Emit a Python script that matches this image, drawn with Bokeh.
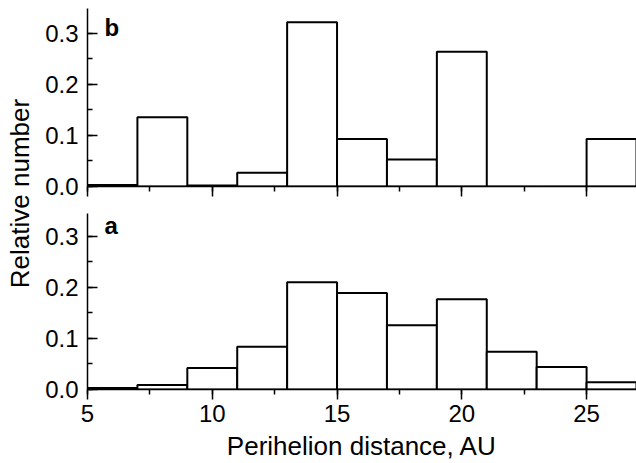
import math
from bokeh.plotting import figure
from bokeh.layouts import row, column
from bokeh.models import SingleIntervalTicker, NumeralTickFormatter, Label, Range1d
from bokeh.core.properties import value
from bokeh.embed import file_html
from bokeh.resources import INLINE

# ---- data ----
bin_edges = [5, 7, 9, 11, 13, 15, 17, 19, 21, 23, 25, 27]
share_a = [0.003, 0.009, 0.042, 0.084, 0.210, 0.189, 0.126, 0.177, 0.074, 0.044, 0.014]
share_b = [0.003, 0.136, 0.002, 0.027, 0.322, 0.093, 0.053, 0.264, 0.0, 0.0, 0.093]
panel_labels = ["b", "a"]
x_title = "Perihelion distance, AU"
y_title = "Relative number"

FONT = "Liberation Sans"
TICK_PX = "24px"
TITLE_PX = "26px"


def style_panel(p, show_x_labels):
    p.outline_line_color = None
    p.grid.grid_line_color = None
    p.background_fill_color = "white"
    p.border_fill_color = "white"
    # x axis
    xa = p.xaxis[0]
    xa.ticker = SingleIntervalTicker(interval=5, num_minor_ticks=2)
    xa.axis_line_width = 1.5
    xa.major_tick_line_width = 1.5
    xa.minor_tick_line_width = 1.5
    xa.major_tick_in = 0
    xa.major_tick_out = 10
    xa.minor_tick_in = 0
    xa.minor_tick_out = 5
    xa.major_label_text_font = FONT
    if show_x_labels:
        xa.major_label_text_color = "black"
        xa.major_label_text_font_size = TICK_PX
        xa.major_label_standoff = 5
        xa.axis_label = x_title
        xa.axis_label_text_font = FONT
        xa.axis_label_text_font_size = TITLE_PX
        xa.axis_label_text_font_style = "normal"
        xa.axis_label_text_color = "black"
        xa.axis_label_standoff = 6
    else:
        xa.major_label_text_color = None
        xa.major_label_text_font_size = "1px"
        xa.major_label_standoff = 0
    # y axis
    ya = p.yaxis[0]
    ya.ticker = SingleIntervalTicker(interval=0.1, num_minor_ticks=2)
    ya.formatter = NumeralTickFormatter(format="0.0")
    ya.axis_line_width = 1.5
    ya.major_tick_line_width = 1.5
    ya.minor_tick_line_width = 1.5
    ya.major_tick_in = 10
    ya.major_tick_out = 0
    ya.minor_tick_in = 5
    ya.minor_tick_out = 0
    ya.major_label_standoff = 9
    ya.major_label_text_font = FONT
    ya.major_label_text_font_size = TICK_PX
    ya.major_label_text_color = "black"


def add_bars(p, vals):
    p.quad(left=bin_edges[:-1], right=bin_edges[1:], bottom=[0] * len(vals), top=vals,
           fill_color="white", line_color="black", line_width=2)


# top panel (b)
top = figure(width=596, height=200, x_range=Range1d(5, 27), y_range=Range1d(0, 0.349),
             output_backend="svg", toolbar_location=None,
             min_border_left=47, min_border_right=0, min_border_top=8, min_border_bottom=14)
add_bars(top, share_b)
style_panel(top, False)
top.add_layout(Label(x=5.68, y=0.312, text=panel_labels[0], text_font=FONT,
                     text_font_size="24px", text_font_style="bold", text_color="black",
                     text_align="left", text_baseline="alphabetic"))

# bottom panel (a)
bot = figure(width=596, height=263, x_range=top.x_range, y_range=Range1d(0, 0.345),
             output_backend="svg", toolbar_location=None,
             min_border_left=47, min_border_right=0, min_border_top=13, min_border_bottom=74)
add_bars(bot, share_a)
style_panel(bot, True)
bot.add_layout(Label(x=5.68, y=0.3216, text=panel_labels[1], text_font=FONT,
                     text_font_size="24px", text_font_style="bold", text_color="black",
                     text_align="left", text_baseline="alphabetic"))

# shared y-axis title
lab = figure(width=40, height=463, x_range=Range1d(0, 40), y_range=Range1d(0, 463),
             output_backend="svg", toolbar_location=None,
             min_border_left=0, min_border_right=0, min_border_top=0, min_border_bottom=0)
lab.axis.visible = False
lab.grid.grid_line_color = None
lab.outline_line_color = None
lab.text(x=[19], y=[463 - 193], text=[y_title], angle=math.pi / 2,
         text_font=value(FONT), text_font_size="26px", text_color="black",
         text_align="center", text_baseline="middle")

layout = row(lab, column(top, bot, spacing=0), spacing=0)

open("out.html", "w").write(file_html(layout, INLINE))
